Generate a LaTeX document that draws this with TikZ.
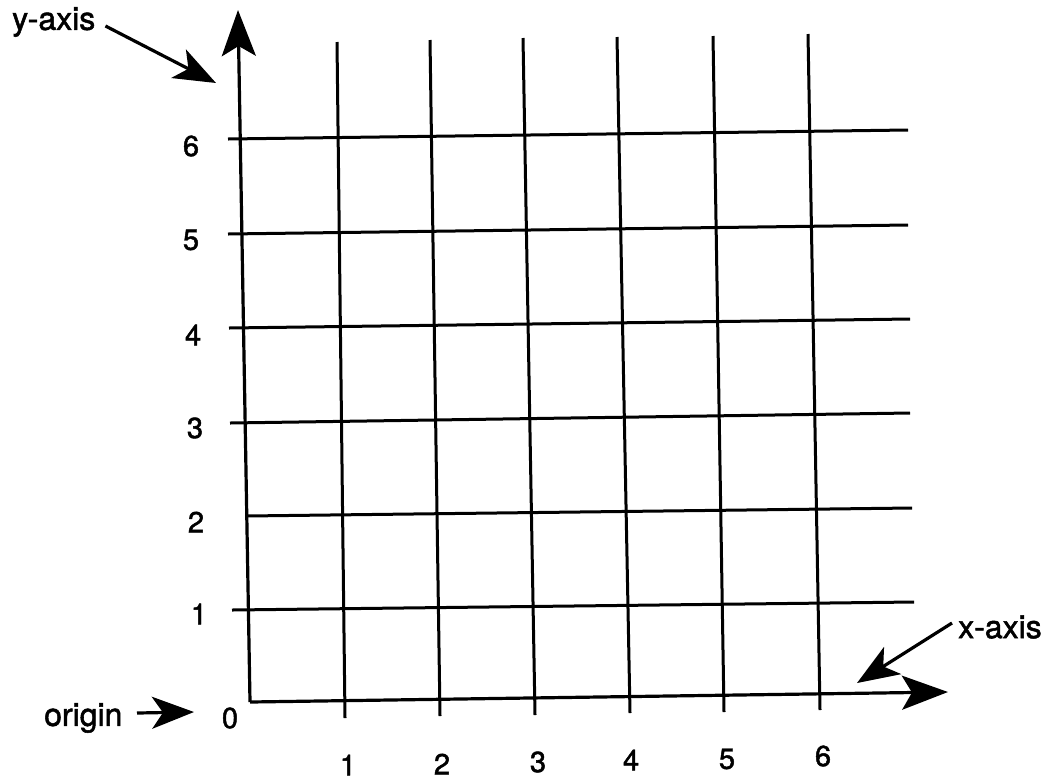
\documentclass[tikz,border=0pt]{standalone}
\usepackage{fontspec}
\setmainfont{TeX Gyre Heros}[FakeBold=1.6]
\usetikzlibrary{arrows.meta}
\begin{document}
\begin{tikzpicture}[x=1pt,y=-1pt,
  gridline/.style={line width=3pt},
  axisline/.style={line width=3.2pt,-{Stealth[length=46pt,width=34pt,inset=10pt]}},
  pointer/.style={line width=3.2pt,-{Stealth[length=42pt,width=32pt,inset=11pt]}},
  num/.style={font=\fontsize{29}{29}\selectfont,inner sep=0pt},
  word/.style={font=\fontsize{32}{32}\selectfont,inner sep=0pt}]
\useasboundingbox (0,0) rectangle (1048,780);
\fill[white] (0,0) rectangle (1048,780);
% origin and axis ends
\coordinate (O) at (250,702);
\coordinate (ytip) at (238,10);
\coordinate (xtip) at (948,692);
% horizontal grid lines
\coordinate (h6a) at (228,139); \coordinate (h6b) at (908,130);
\coordinate (h5a) at (228,234); \coordinate (h5b) at (908,225);
\coordinate (h4a) at (229,328); \coordinate (h4b) at (910,319);
\coordinate (h3a) at (230,423); \coordinate (h3b) at (910,413);
\coordinate (h2a) at (246,516); \coordinate (h2b) at (912,508);
\coordinate (h1a) at (232,610); \coordinate (h1b) at (914,602);
\foreach \i in {1,...,6} \draw[gridline] (h\i a) -- (h\i b);
% vertical grid lines
\coordinate (v1a) at (337,42); \coordinate (v1b) at (345,718);
\coordinate (v2a) at (430,40); \coordinate (v2b) at (440,716);
\coordinate (v3a) at (523,38); \coordinate (v3b) at (535,715);
\coordinate (v4a) at (617,37); \coordinate (v4b) at (630,713);
\coordinate (v5a) at (713,36); \coordinate (v5b) at (724,712);
\coordinate (v6a) at (808,34); \coordinate (v6b) at (820,710);
\foreach \i in {1,...,6} \draw[gridline] (v\i a) -- (v\i b);
% axes
\draw[axisline] (O) -- (ytip);
\draw[axisline] (O) -- (xtip);
% y numbers
\node[num] (y6) at (191,146) {6};
\node[num] (y5) at (191,240) {5};
\node[num] (y4) at (193,335) {4};
\node[num] (y3) at (195,428) {3};
\node[num] (y2) at (196,522) {2};
\node[num] (y1) at (199,614) {1};
\node[num] (y0) at (230,718) {0};
% x numbers
\node[num] (x1) at (348,765) {1};
\node[num] (x2) at (442,764) {2};
\node[num] (x3) at (538,762) {3};
\node[num] (x4) at (631,760) {4};
\node[num] (x5) at (727,759) {5};
\node[num] (x6) at (823,756) {6};
% labels with pointers
\node[word,anchor=west] (ylab) at (12,22) {y-axis};
\coordinate (yptr) at (216,83);
\draw[pointer] (ylab.east) ++(10,4) -- (yptr);
\node[word,anchor=west] (olab) at (44,718) {origin};
\coordinate (optr) at (194,712);
\draw[pointer] (137,713) -- (optr);
\node[word,anchor=west] (xlab) at (958,627) {x-axis};
\coordinate (xptr) at (857,683);
\draw[pointer] (xlab.west) ++(-6,-4) -- (xptr);
\end{tikzpicture}
\end{document}
